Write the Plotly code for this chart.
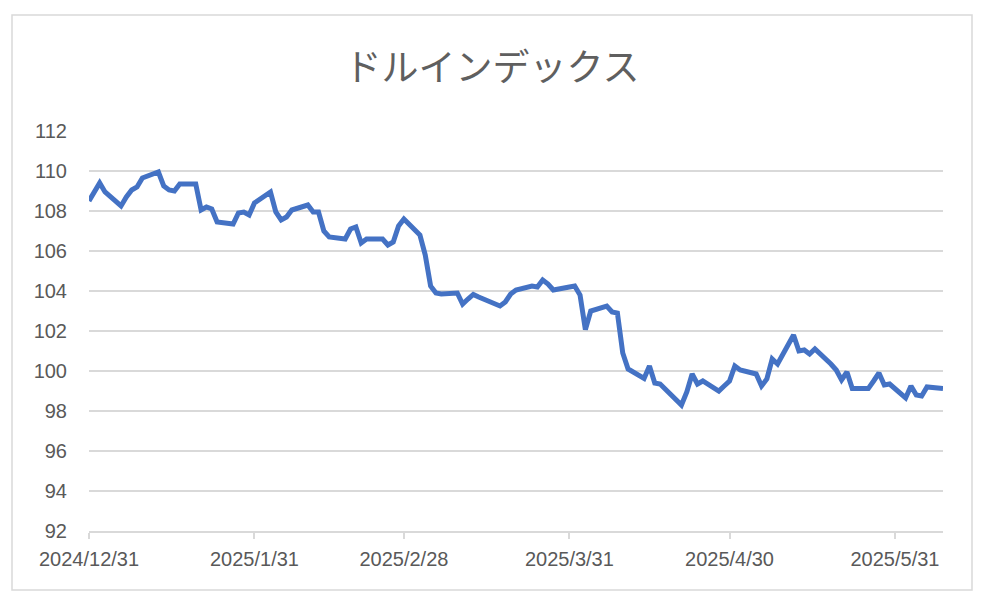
import plotly.graph_objects as go

# ---- data ----
dates = [
    "2024-12-31",
    "2025-01-02", "2025-01-03", "2025-01-06", "2025-01-07", "2025-01-08", "2025-01-09", "2025-01-10",
    "2025-01-13", "2025-01-14", "2025-01-15", "2025-01-16", "2025-01-17",
    "2025-01-20", "2025-01-21", "2025-01-22", "2025-01-23", "2025-01-24",
    "2025-01-27", "2025-01-28", "2025-01-29", "2025-01-30", "2025-01-31",
    "2025-02-03", "2025-02-04", "2025-02-05", "2025-02-06", "2025-02-07",
    "2025-02-10", "2025-02-11", "2025-02-12", "2025-02-13", "2025-02-14",
    "2025-02-17", "2025-02-18", "2025-02-19", "2025-02-20", "2025-02-21",
    "2025-02-24", "2025-02-25", "2025-02-26", "2025-02-27", "2025-02-28",
    "2025-03-03", "2025-03-04", "2025-03-05", "2025-03-06", "2025-03-07",
    "2025-03-10", "2025-03-11", "2025-03-12", "2025-03-13", "2025-03-14",
    "2025-03-17", "2025-03-18", "2025-03-19", "2025-03-20", "2025-03-21",
    "2025-03-24", "2025-03-25", "2025-03-26", "2025-03-27", "2025-03-28",
    "2025-03-31", "2025-04-01", "2025-04-02", "2025-04-03", "2025-04-04",
    "2025-04-07", "2025-04-08", "2025-04-09", "2025-04-10", "2025-04-11",
    "2025-04-14", "2025-04-15", "2025-04-16", "2025-04-17",
    "2025-04-21", "2025-04-22", "2025-04-23", "2025-04-24", "2025-04-25",
    "2025-04-28", "2025-04-29", "2025-04-30", "2025-05-01", "2025-05-02",
    "2025-05-05", "2025-05-06", "2025-05-07", "2025-05-08", "2025-05-09",
    "2025-05-12", "2025-05-13", "2025-05-14", "2025-05-15", "2025-05-16",
    "2025-05-19", "2025-05-20", "2025-05-21", "2025-05-22", "2025-05-23",
    "2025-05-26", "2025-05-27", "2025-05-28", "2025-05-29", "2025-05-30",
    "2025-06-02", "2025-06-03", "2025-06-04", "2025-06-05", "2025-06-06",
    "2025-06-09",
]
dxy = [
    108.5,
    109.4, 108.95, 108.25, 108.7, 109.05, 109.2, 109.65,
    109.95, 109.25, 109.05, 109.0, 109.35,
    109.35, 108.05, 108.2, 108.1, 107.45,
    107.35, 107.9, 107.95, 107.8, 108.4,
    108.95, 107.95, 107.55, 107.7, 108.05,
    108.3, 107.95, 107.95, 107.0, 106.7,
    106.6, 107.1, 107.2, 106.4, 106.6,
    106.6, 106.3, 106.45, 107.25, 107.6,
    106.8, 105.8, 104.25, 103.9, 103.85,
    103.9, 103.35, 103.6, 103.83, 103.7,
    103.4, 103.25, 103.45, 103.85, 104.05,
    104.25, 104.2, 104.55, 104.35, 104.05,
    104.2, 104.25, 103.8, 102.07, 103.0,
    103.25, 102.95, 102.9, 100.9, 100.1,
    99.63, 100.25, 99.4, 99.35,
    98.3, 98.95, 99.85, 99.35, 99.5,
    99.0, 99.25, 99.5, 100.25, 100.05,
    99.85, 99.25, 99.6, 100.6, 100.35,
    101.8, 101.0, 101.05, 100.85, 101.1,
    100.35, 100.05, 99.55, 99.95, 99.12,
    99.12, 99.5, 99.9, 99.3, 99.35,
    98.65, 99.25, 98.8, 98.75, 99.2,
    99.12,
]
x_tick_vals = ["2024-12-31", "2025-01-31", "2025-02-28", "2025-03-31", "2025-04-30", "2025-05-31"]
x_tick_text = ["2024/12/31", "2025/1/31", "2025/2/28", "2025/3/31", "2025/4/30", "2025/5/31"]
y_tick_vals = [92, 94, 96, 98, 100, 102, 104, 106, 108, 110, 112]
title_text = "ドルインデックス"

# ---- figure ----
# page has an 8px body margin; figure coordinates are page coordinates minus 8
W, H = 984, 602
L, R, T, B = 81, 49, 123, 79
pw, ph = W - L - R, H - T - B

fig = go.Figure()
fig.add_trace(go.Scatter(
    x=dates, y=dxy, mode="lines",
    line=dict(color="#4472C4", width=5),
    hoverinfo="skip", showlegend=False,
))

tick_font = dict(family="Liberation Sans, Arial", size=20, color="#595959")

fig.update_layout(
    width=W, height=H,
    margin=dict(l=L, r=R, t=T, b=B),
    paper_bgcolor="white", plot_bgcolor="white",
    title=dict(
        text=title_text,
        x=484 / W, xanchor="center",
        y=1 - 60 / H, yanchor="middle",
        font=dict(family="Noto Sans CJK JP", size=37, color="#5f5f5f"),
    ),
    xaxis=dict(
        type="date",
        range=["2024-12-31", "2025-06-09"],
        tickvals=x_tick_vals, ticktext=x_tick_text,
        showgrid=False, zeroline=False,
        showline=True, linecolor="#d9d9d9", linewidth=1.5,
        ticks="outside", ticklen=6, tickcolor="#d9d9d9", tickwidth=1.5,
        tickfont=tick_font, ticklabelstandoff=3,
    ),
    yaxis=dict(
        range=[92, 112],
        tickvals=y_tick_vals,
        showgrid=True, gridcolor="#d9d9d9", gridwidth=1.5,
        zeroline=False, showline=False, ticks="",
        tickfont=tick_font, ticklabelstandoff=21,
    ),
    shapes=[dict(
        type="rect", xref="paper", yref="paper",
        x0=(4 - L) / pw, x1=(964 - L) / pw,
        y0=(H - B - 582) / ph, y1=(H - B - 7) / ph,
        line=dict(color="#d9d9d9", width=1.5), fillcolor="rgba(0,0,0,0)",
        layer="below",
    )],
)

fig.write_html("out.html")
